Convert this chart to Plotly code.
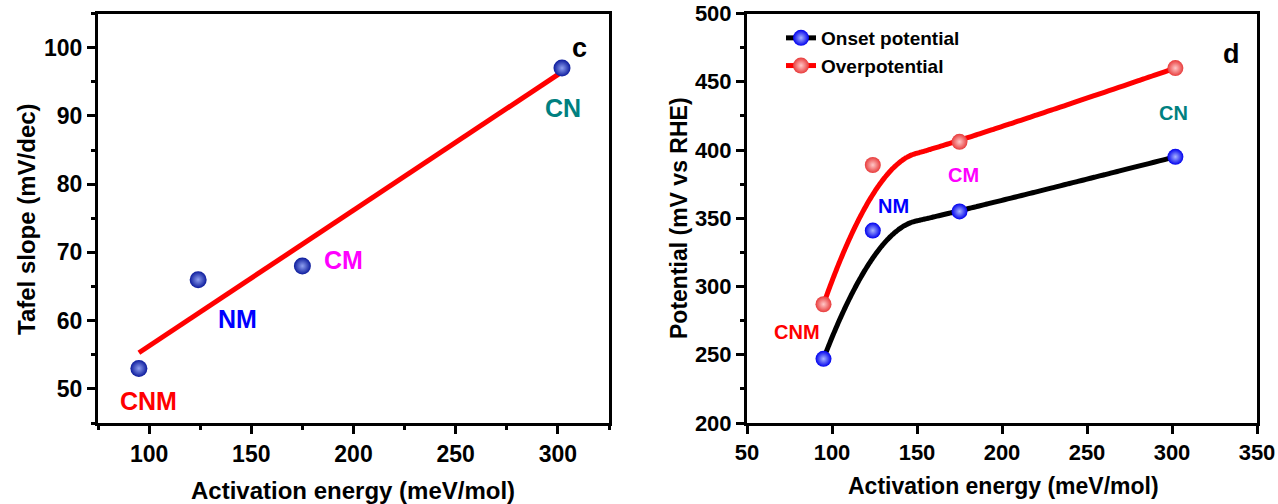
import numpy as np
import plotly.graph_objects as go

# ---------------- data ----------------
samples = ["CNM", "NM", "CM", "CN"]
act_energy = [95, 124, 175, 302]            # meV/mol
tafel_slope = [53, 66, 68, 97]              # mV/dec
onset_potential = [247, 341, 355, 395]      # mV vs RHE
overpotential = [287, 389, 406, 460]        # mV vs RHE

# ---------------- helpers ----------------
def quad_bspline(xs, ys, n=80):
    """Clamped quadratic B-spline (Origin-style 'B-Spline' connection)."""
    P = np.column_stack([xs, ys]).astype(float)
    m = len(P)
    segs = []
    for i in range(m - 2):
        a = P[i] if i == 0 else (P[i] + P[i + 1]) / 2
        b = P[i + 1]
        c = P[i + 2] if i == m - 3 else (P[i + 1] + P[i + 2]) / 2
        t = np.linspace(0, 1, n)[:, None]
        segs.append((1 - t) ** 2 * a + 2 * (1 - t) * t * b + t ** 2 * c)
    pts = np.vstack(segs)
    return pts[:, 0], pts[:, 1]

FONT = "Liberation Sans, Arial, sans-serif"

fig = go.Figure()

# ---------------- panel c ----------------
coef = np.polyfit(act_energy, tafel_slope, 1)
fx = np.array([min(act_energy), max(act_energy)], dtype=float)
fig.add_trace(go.Scatter(x=fx, y=np.polyval(coef, fx), mode="lines",
                         line=dict(color="#ff0000", width=5),
                         showlegend=False, xaxis="x", yaxis="y"))
fig.add_trace(go.Scatter(x=act_energy, y=tafel_slope, mode="markers",
                         marker=dict(size=17, color="#0b1a9c",
                                     gradient=dict(type="radial", color="#8fa0f0"),
                                     line=dict(width=0)),
                         showlegend=False, xaxis="x", yaxis="y"))

# ---------------- panel d ----------------
ox, oy = quad_bspline(act_energy, onset_potential)
rx, ry = quad_bspline(act_energy, overpotential)
fig.add_trace(go.Scatter(x=ox, y=oy, mode="lines",
                         line=dict(color="black", width=5, shape="spline"),
                         showlegend=False, xaxis="x2", yaxis="y2"))
fig.add_trace(go.Scatter(x=rx, y=ry, mode="lines",
                         line=dict(color="#ff0000", width=5, shape="spline"),
                         showlegend=False, xaxis="x2", yaxis="y2"))
blue_m = dict(size=16, color="#0000ee", gradient=dict(type="radial", color="#a8b4ff"),
              line=dict(width=0))
red_m = dict(size=16, color="#e83b3b", gradient=dict(type="radial", color="#ffc8c8"),
             line=dict(width=0))
fig.add_trace(go.Scatter(x=act_energy, y=onset_potential, mode="markers", marker=blue_m,
                         showlegend=False, xaxis="x2", yaxis="y2"))
fig.add_trace(go.Scatter(x=act_energy, y=overpotential, mode="markers", marker=red_m,
                         showlegend=False, xaxis="x2", yaxis="y2"))
# legend entries
fig.add_trace(go.Scatter(x=[None], y=[None], mode="lines+markers", name="Onset potential",
                         line=dict(color="black", width=5), marker=blue_m,
                         xaxis="x2", yaxis="y2"))
fig.add_trace(go.Scatter(x=[None], y=[None], mode="lines+markers", name="Overpotential",
                         line=dict(color="#ff0000", width=5), marker=red_m,
                         xaxis="x2", yaxis="y2"))

# ---------------- axes ----------------
def axis_common(size):
    return dict(showline=True, linewidth=3, linecolor="black", mirror=True,
                showgrid=False, zeroline=False, ticks="outside", ticklen=8,
                tickwidth=3, tickcolor="black",
                tickfont=dict(family=FONT, size=size, color="black", weight="bold"),
                automargin=False)

minor_c = dict(ticks="outside", ticklen=4, tickwidth=3, tickcolor="black")
yd = [1 - 423 / 504, 1 - 13.5 / 504]
fig.update_layout(
    xaxis=dict(domain=[98 / 1278, 609 / 1278], range=[75, 325], tick0=0, dtick=50,
               minor=dict(dtick=25, **minor_c), anchor="y", **axis_common(23)),
    yaxis=dict(domain=yd, range=[45, 105], tick0=0, dtick=10,
               minor=dict(dtick=5, **minor_c), anchor="x", **axis_common(23)),
    xaxis2=dict(domain=[747 / 1278, 1257 / 1278], range=[50, 350], tick0=0, dtick=50,
                anchor="y2", **axis_common(22)),
    yaxis2=dict(domain=yd, range=[200, 500], tick0=0, dtick=50,
                minor=dict(dtick=25, **minor_c), anchor="x2", **axis_common(22)),
)

# ---------------- annotations ----------------
lab_colors = ["#ff0000", "#0000ff", "#ff00ff", "#008080"]
c_label_pos = [(99.5, 48.2), (143.4, 60.3), (194.9, 68.9), (302.3, 91.1)]
d_label_pos = [(79.2, 266.7), (136.2, 358.8), (177.4, 382.0), (300.6, 427.3)]

ann = []
for s, col, (lx, ly) in zip(samples, lab_colors, c_label_pos):
    ann.append(dict(x=lx, y=ly, xref="x", yref="y", text=s, showarrow=False,
                    font=dict(family=FONT, size=25, color=col, weight="bold")))
for s, col, (lx, ly) in zip(samples, lab_colors, d_label_pos):
    ann.append(dict(x=lx, y=ly, xref="x2", yref="y2", text=s, showarrow=False,
                    font=dict(family=FONT, size=20, color=col, weight="bold")))
ann.append(dict(x=310.8, y=99.7, xref="x", yref="y", text="c", showarrow=False, yshift=2,
                font=dict(family=FONT, size=27, color="black", weight="bold")))
ann.append(dict(x=334.9, y=470.2, xref="x2", yref="y2", text="d", showarrow=False,
                font=dict(family=FONT, size=27, color="black", weight="bold")))
# axis titles
tf = dict(family=FONT, size=24, color="black", weight="bold")
tf2 = dict(family=FONT, size=23, color="black", weight="bold")
titles = [
    (353, 490, 0, "Activation energy (meV/mol)", tf),
    (26, 219, -90, "Tafel slope (mV/dec)", tf),
    (1003, 486, 0, "Activation energy (meV/mol)", tf2),
    (679, 218, -90, "Potential (mV vs RHE)", tf2),
]
for px, py, ang, txt, f in titles:
    ann.append(dict(x=px / 1278, y=1 - py / 504, xref="paper", yref="paper",
                    xanchor="center", yanchor="middle", textangle=ang,
                    text=txt, showarrow=False, font=f))

fig.update_layout(
    width=1278, height=504, autosize=False,
    margin=dict(l=0, r=0, t=0, b=0),
    paper_bgcolor="white", plot_bgcolor="white",
    annotations=ann,
    legend=dict(x=781 / 1278, y=1 - 19 / 504, xanchor="left", yanchor="top",
                bgcolor="rgba(0,0,0,0)", font=dict(family=FONT, size=19, color="black",
                                                   weight="bold"),
                itemsizing="trace", tracegroupgap=0),
)

fig.write_html("out.html")
